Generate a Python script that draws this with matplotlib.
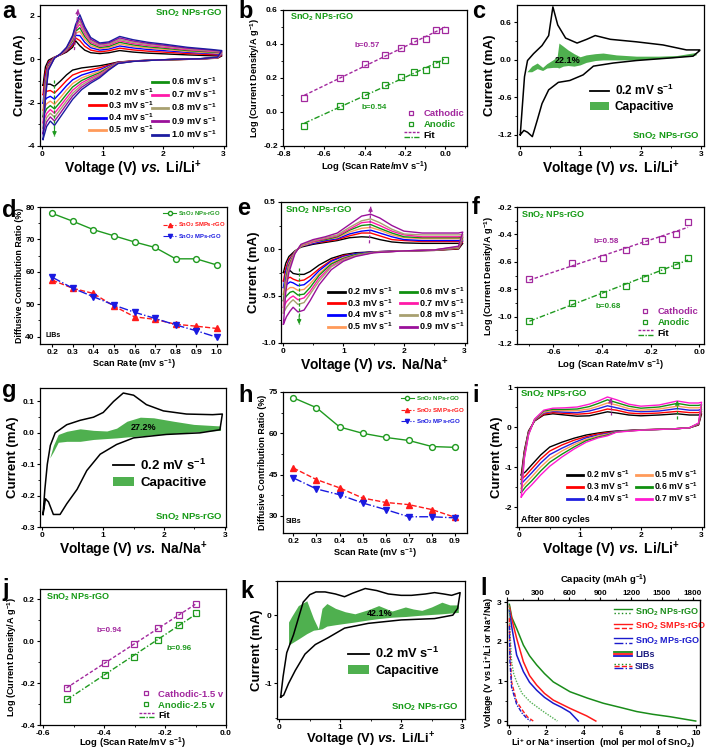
import numpy as np
import matplotlib
matplotlib.use("Agg")
import matplotlib.pyplot as plt
from matplotlib.lines import Line2D
from matplotlib.patches import Patch
from matplotlib.legend_handler import HandlerBase
from matplotlib.ticker import AutoMinorLocator

plt.rcParams.update({
    "font.family": ["Liberation Sans", "DejaVu Sans"],
    "font.weight": "bold",
    "axes.labelweight": "bold",
    "mathtext.fontset": "custom",
    "mathtext.rm": "Liberation Sans:bold",
    "mathtext.bf": "Liberation Sans:bold",
    "mathtext.it": "Liberation Sans:bold:italic",
    "mathtext.default": "bf",
    "axes.unicode_minus": False,
})

# ---------------- DATA ----------------
# (a) Li CV, SnO2 NPs-rGO, scan rates 0.2-1.0 mV/s
A_RATES = ["0.2", "0.3", "0.4", "0.5", "0.6", "0.7", "0.8", "0.9", "1.0"]
A_V_UP = [0.01, 0.05, 0.1, 0.2, 0.3, 0.4, 0.5, 0.55, 0.62, 0.7, 0.8, 0.95, 1.1, 1.28, 1.5, 1.75, 2.0, 2.4, 2.8, 2.97]
A_V_DN = [2.97, 2.9, 2.6, 2.2, 1.8, 1.5, 1.25, 1.1, 0.95, 0.8, 0.65, 0.5, 0.4, 0.3, 0.2, 0.13, 0.07, 0.01]
A_I_UP = [
    [-1.20, -0.35, -0.05, 0.10, 0.20, 0.33, 0.55, 0.85, 0.62, 0.42, 0.30, 0.26, 0.30, 0.40, 0.33, 0.28, 0.25, 0.20, 0.16, 0.15],
    [-1.63, -0.60, -0.13, 0.09, 0.21, 0.37, 0.64, 0.98, 0.86, 0.60, 0.42, 0.34, 0.39, 0.51, 0.43, 0.37, 0.33, 0.26, 0.21, 0.19],
    [-2.03, -0.83, -0.20, 0.08, 0.22, 0.40, 0.73, 1.10, 1.09, 0.78, 0.53, 0.42, 0.47, 0.61, 0.52, 0.45, 0.40, 0.32, 0.26, 0.23],
    [-2.35, -1.02, -0.26, 0.08, 0.22, 0.43, 0.80, 1.20, 1.28, 0.92, 0.62, 0.49, 0.53, 0.70, 0.59, 0.51, 0.46, 0.36, 0.29, 0.27],
    [-2.65, -1.19, -0.31, 0.07, 0.23, 0.46, 0.87, 1.29, 1.45, 1.05, 0.71, 0.54, 0.59, 0.78, 0.66, 0.57, 0.51, 0.40, 0.33, 0.30],
    [-2.93, -1.35, -0.36, 0.07, 0.23, 0.48, 0.93, 1.37, 1.61, 1.17, 0.78, 0.60, 0.65, 0.85, 0.72, 0.63, 0.56, 0.44, 0.36, 0.32],
    [-3.18, -1.50, -0.41, 0.06, 0.24, 0.50, 0.98, 1.44, 1.75, 1.27, 0.85, 0.65, 0.70, 0.91, 0.78, 0.68, 0.61, 0.48, 0.39, 0.35],
    [-3.43, -1.64, -0.45, 0.06, 0.24, 0.53, 1.04, 1.52, 1.89, 1.38, 0.92, 0.70, 0.75, 0.98, 0.84, 0.73, 0.65, 0.51, 0.42, 0.37],
    [-3.70, -1.80, -0.50, 0.05, 0.25, 0.55, 1.10, 1.60, 2.05, 1.50, 1.00, 0.75, 0.80, 1.05, 0.90, 0.78, 0.70, 0.55, 0.45, 0.40],
]
A_I_DN = [
    [0.15, 0.05, 0.01, -0.02, -0.04, -0.08, -0.13, -0.22, -0.30, -0.35, -0.40, -0.50, -0.72, -1.00, -1.25, -1.15, -1.15, -1.20],
    [0.19, 0.06, 0.01, -0.02, -0.04, -0.08, -0.14, -0.27, -0.39, -0.48, -0.57, -0.73, -0.98, -1.28, -1.56, -1.44, -1.48, -1.63],
    [0.23, 0.07, 0.01, -0.01, -0.04, -0.09, -0.15, -0.31, -0.48, -0.60, -0.73, -0.95, -1.22, -1.54, -1.84, -1.71, -1.79, -2.03],
    [0.27, 0.07, 0.01, -0.01, -0.04, -0.09, -0.16, -0.35, -0.55, -0.70, -0.86, -1.12, -1.42, -1.76, -2.08, -1.93, -2.05, -2.35],
    [0.30, 0.08, 0.01, -0.01, -0.05, -0.09, -0.17, -0.38, -0.62, -0.79, -0.98, -1.28, -1.61, -1.96, -2.29, -2.14, -2.28, -2.65],
    [0.32, 0.08, 0.01, 0.00, -0.05, -0.09, -0.18, -0.41, -0.68, -0.87, -1.09, -1.43, -1.78, -2.14, -2.49, -2.32, -2.50, -2.93],
    [0.35, 0.09, 0.02, 0.00, -0.05, -0.10, -0.19, -0.44, -0.73, -0.94, -1.19, -1.57, -1.93, -2.30, -2.67, -2.49, -2.69, -3.18],
    [0.37, 0.09, 0.02, 0.00, -0.05, -0.10, -0.19, -0.47, -0.79, -1.02, -1.29, -1.70, -2.08, -2.47, -2.85, -2.66, -2.89, -3.43],
    [0.40, 0.10, 0.02, 0.00, -0.05, -0.10, -0.20, -0.50, -0.85, -1.10, -1.40, -1.85, -2.25, -2.65, -3.05, -2.85, -3.10, -3.70],
]

# (b) log i vs log v (Li)
B_RATES = [0.2, 0.3, 0.4, 0.5, 0.6, 0.7, 0.8, 0.9, 1.0]
B_CATH = [0.085, 0.20, 0.285, 0.335, 0.375, 0.42, 0.43, 0.48, 0.485]
B_ANOD = [-0.08, 0.035, 0.10, 0.16, 0.205, 0.235, 0.245, 0.285, 0.305]

# (c) capacitive contribution, Li, 0.2 mV/s
C_V_UP = [0.01, 0.04, 0.08, 0.13, 0.23, 0.37, 0.48, 0.55, 0.63, 0.76, 0.95, 1.11, 1.25, 1.5, 1.93, 2.37, 2.76, 2.98]
C_I_UP = [-1.20, -0.80, -0.27, -0.01, 0.10, 0.23, 0.39, 0.85, 0.56, 0.35, 0.27, 0.33, 0.39, 0.33, 0.29, 0.24, 0.16, 0.16]
C_V_DN = [2.98, 2.87, 2.48, 1.93, 1.55, 1.22, 1.05, 0.83, 0.64, 0.48, 0.37, 0.29, 0.21, 0.13, 0.07, 0.01]
C_I_DN = [0.15, 0.06, 0.03, -0.01, -0.05, -0.10, -0.24, -0.33, -0.36, -0.48, -0.70, -0.97, -1.23, -1.16, -1.13, -1.20]
C_CAP_V = [0.12, 0.2, 0.29, 0.38, 0.45, 0.55, 0.62, 0.65, 0.72, 0.8, 0.9, 1.0, 1.1, 1.25, 1.38, 1.6, 1.93, 2.3, 2.6, 2.92]
C_CAP_TOP = [-0.19, -0.1, -0.05, -0.12, -0.06, 0.0, 0.05, 0.27, 0.22, 0.16, 0.1, 0.05, 0.08, 0.1, 0.11, 0.08, 0.06, 0.06, 0.07, 0.12]
C_CAP_BOT = [-0.19, -0.19, -0.14, -0.17, -0.13, -0.12, -0.12, -0.13, -0.1, -0.09, -0.1, -0.08, -0.04, -0.01, 0.0, 0.0, 0.0, 0.02, 0.04, 0.08]

# (d) diffusive ratio, LIBs
D_RATE = [0.2, 0.3, 0.4, 0.5, 0.6, 0.7, 0.8, 0.9, 1.0]
D_NP = [78.0, 75.6, 73.0, 71.1, 69.2, 67.5, 64.0, 64.0, 62.1]
D_SMP = [57.4, 54.9, 53.3, 49.4, 46.1, 45.3, 43.8, 43.2, 42.5]
D_MP = [58.3, 54.9, 52.3, 49.7, 47.5, 45.6, 43.6, 41.8, 39.8]

# (e) Na CV, scan rates 0.2-0.9 mV/s
E_RATES = ["0.2", "0.3", "0.4", "0.5", "0.6", "0.7", "0.8", "0.9"]
E_V_UP = [0.01, 0.05, 0.1, 0.2, 0.3, 0.5, 0.7, 0.9, 1.1, 1.3, 1.45, 1.6, 1.8, 2.0, 2.3, 2.6, 2.9, 2.97]
E_V_DN = [2.97, 2.9, 2.5, 2.0, 1.5, 1.2, 1.0, 0.8, 0.6, 0.45, 0.35, 0.25, 0.17, 0.12, 0.06, 0.01]
E_I_UP = [
    [-0.25, -0.15, -0.08, -0.02, 0.02, 0.05, 0.07, 0.09, 0.12, 0.13, 0.125, 0.10, 0.075, 0.065, 0.06, 0.06, 0.06, 0.06],
    [-0.34, -0.20, -0.11, -0.03, 0.03, 0.06, 0.08, 0.10, 0.14, 0.17, 0.17, 0.14, 0.10, 0.09, 0.08, 0.08, 0.08, 0.08],
    [-0.41, -0.24, -0.13, -0.03, 0.03, 0.06, 0.09, 0.11, 0.16, 0.19, 0.20, 0.17, 0.13, 0.10, 0.09, 0.09, 0.09, 0.095],
    [-0.48, -0.28, -0.15, -0.03, 0.03, 0.07, 0.10, 0.12, 0.18, 0.22, 0.23, 0.20, 0.15, 0.12, 0.11, 0.11, 0.11, 0.11],
    [-0.55, -0.31, -0.17, -0.04, 0.04, 0.08, 0.10, 0.13, 0.20, 0.25, 0.26, 0.22, 0.17, 0.13, 0.12, 0.12, 0.12, 0.125],
    [-0.62, -0.35, -0.19, -0.04, 0.04, 0.08, 0.11, 0.14, 0.21, 0.28, 0.29, 0.25, 0.19, 0.15, 0.13, 0.13, 0.13, 0.14],
    [-0.68, -0.39, -0.21, -0.04, 0.04, 0.09, 0.12, 0.15, 0.23, 0.30, 0.32, 0.28, 0.21, 0.16, 0.15, 0.15, 0.15, 0.155],
    [-0.80, -0.45, -0.25, -0.05, 0.05, 0.10, 0.13, 0.17, 0.26, 0.35, 0.37, 0.33, 0.25, 0.19, 0.17, 0.17, 0.17, 0.18],
]
E_I_DN = [
    [0.06, 0.0, -0.015, -0.02, -0.03, -0.04, -0.06, -0.10, -0.17, -0.24, -0.27, -0.27, -0.26, -0.23, -0.24, -0.25],
    [0.08, 0.005, -0.014, -0.02, -0.03, -0.05, -0.07, -0.12, -0.21, -0.29, -0.33, -0.34, -0.32, -0.30, -0.32, -0.34],
    [0.095, 0.01, -0.013, -0.02, -0.03, -0.05, -0.08, -0.13, -0.23, -0.33, -0.38, -0.39, -0.36, -0.35, -0.38, -0.41],
    [0.11, 0.01, -0.013, -0.02, -0.034, -0.06, -0.09, -0.15, -0.26, -0.37, -0.43, -0.44, -0.41, -0.41, -0.44, -0.48],
    [0.125, 0.016, -0.012, -0.02, -0.035, -0.06, -0.10, -0.16, -0.28, -0.41, -0.48, -0.49, -0.45, -0.46, -0.50, -0.55],
    [0.14, 0.02, -0.01, -0.02, -0.037, -0.07, -0.11, -0.18, -0.31, -0.45, -0.52, -0.54, -0.50, -0.52, -0.56, -0.62],
    [0.155, 0.024, -0.01, -0.02, -0.038, -0.07, -0.12, -0.19, -0.34, -0.48, -0.57, -0.59, -0.54, -0.57, -0.62, -0.68],
    [0.18, 0.03, -0.01, -0.02, -0.04, -0.08, -0.13, -0.22, -0.38, -0.55, -0.65, -0.67, -0.62, -0.66, -0.72, -0.80],
]

# (f) log i vs log v (Na)
F_RATES = [0.2, 0.3, 0.4, 0.5, 0.6, 0.7, 0.8, 0.9]
F_CATH = [-0.728, -0.611, -0.575, -0.515, -0.445, -0.43, -0.395, -0.31]
F_ANOD = [-1.03, -0.902, -0.837, -0.774, -0.716, -0.66, -0.624, -0.571]

# (g) capacitive contribution, Na, 0.2 mV/s
G_V_UP = [0.01, 0.04, 0.08, 0.13, 0.21, 0.4, 0.62, 0.84, 1.0, 1.17, 1.33, 1.5, 1.71, 1.99, 2.37, 2.8, 2.96]
G_I_UP = [-0.26, -0.18, -0.10, -0.04, 0.0, 0.026, 0.04, 0.05, 0.065, 0.10, 0.127, 0.12, 0.09, 0.07, 0.06, 0.058, 0.06]
G_V_DN = [2.96, 2.92, 2.59, 2.04, 1.5, 1.22, 0.95, 0.73, 0.57, 0.4, 0.29, 0.18, 0.1, 0.05, 0.01]
G_I_DN = [0.06, 0.01, 0.0, -0.005, -0.016, -0.037, -0.068, -0.12, -0.18, -0.226, -0.26, -0.26, -0.22, -0.21, -0.26]
G_CAP_V = [0.12, 0.18, 0.26, 0.4, 0.62, 0.84, 1.06, 1.22, 1.39, 1.61, 1.83, 2.16, 2.49, 2.93]
G_CAP_TOP = [-0.08, -0.04, -0.005, 0.005, 0.013, 0.008, 0.006, 0.015, 0.037, 0.05, 0.048, 0.037, 0.027, 0.022]
G_CAP_BOT = [-0.08, -0.06, -0.03, -0.027, -0.027, -0.021, -0.018, -0.016, -0.013, -0.01, -0.006, -0.002, 0.003, 0.008]

# (h) diffusive ratio, SIBs
H_RATE = [0.2, 0.3, 0.4, 0.5, 0.6, 0.7, 0.8, 0.9]
H_NP = [72.9, 69.3, 62.3, 60.0, 58.5, 57.4, 55.2, 54.9]
H_SMP = [47.4, 43.2, 40.2, 36.5, 34.9, 34.1, 32.3, 29.5]
H_MP = [43.8, 39.8, 37.7, 34.7, 32.3, 29.7, 29.7, 29.3]

# (i) Li CV after 800 cycles, 0.2-0.7 mV/s
I_RATES = ["0.2", "0.3", "0.4", "0.5", "0.6", "0.7"]
I_V_UP = [0.03, 0.08, 0.15, 0.25, 0.4, 0.55, 0.75, 0.95, 1.15, 1.3, 1.45, 1.6, 1.8, 2.0, 2.3, 2.6, 2.8, 2.95, 3.0]
I_V_DN = [3.0, 2.95, 2.8, 2.5, 2.0, 1.6, 1.45, 1.3, 1.1, 0.9, 0.7, 0.5, 0.35, 0.2, 0.1, 0.03]
I_I_UP = [
    [-1.20, -0.60, -0.10, 0.15, 0.30, 0.33, 0.30, 0.27, 0.28, 0.33, 0.38, 0.35, 0.30, 0.28, 0.30, 0.33, 0.30, 0.30, 0.33],
    [-1.31, -0.64, -0.12, 0.16, 0.32, 0.36, 0.34, 0.32, 0.34, 0.39, 0.45, 0.42, 0.35, 0.33, 0.35, 0.39, 0.36, 0.36, 0.39],
    [-1.42, -0.68, -0.14, 0.17, 0.35, 0.39, 0.37, 0.36, 0.40, 0.46, 0.53, 0.48, 0.41, 0.38, 0.40, 0.46, 0.42, 0.42, 0.45],
    [-1.53, -0.72, -0.16, 0.18, 0.37, 0.41, 0.41, 0.41, 0.45, 0.52, 0.60, 0.55, 0.46, 0.42, 0.45, 0.52, 0.48, 0.48, 0.50],
    [-1.64, -0.76, -0.18, 0.19, 0.40, 0.44, 0.44, 0.45, 0.51, 0.59, 0.68, 0.61, 0.52, 0.47, 0.50, 0.59, 0.54, 0.54, 0.56],
    [-1.75, -0.80, -0.20, 0.20, 0.42, 0.47, 0.48, 0.50, 0.57, 0.65, 0.75, 0.68, 0.57, 0.52, 0.55, 0.65, 0.60, 0.60, 0.62],
]
I_I_DN = [
    [0.33, 0.05, -0.02, -0.05, -0.07, -0.10, -0.12, -0.15, -0.20, -0.28, -0.38, -0.50, -0.70, -0.95, -1.12, -1.20],
    [0.39, 0.06, -0.02, -0.05, -0.07, -0.11, -0.14, -0.17, -0.24, -0.33, -0.45, -0.60, -0.80, -1.05, -1.22, -1.31],
    [0.45, 0.07, -0.02, -0.05, -0.074, -0.11, -0.16, -0.20, -0.27, -0.39, -0.53, -0.69, -0.90, -1.15, -1.31, -1.42],
    [0.50, 0.08, -0.02, -0.05, -0.076, -0.12, -0.18, -0.22, -0.31, -0.44, -0.60, -0.79, -1.00, -1.25, -1.41, -1.53],
    [0.56, 0.09, -0.02, -0.05, -0.078, -0.12, -0.20, -0.25, -0.34, -0.50, -0.68, -0.88, -1.10, -1.35, -1.50, -1.64],
    [0.62, 0.10, -0.02, -0.05, -0.08, -0.13, -0.22, -0.27, -0.38, -0.55, -0.75, -0.98, -1.20, -1.45, -1.60, -1.75],
]

# (j) log i vs log v after cycling
J_RATES = [0.3, 0.4, 0.5, 0.6, 0.7, 0.8]
J_CATH = [-0.222, -0.106, -0.014, 0.065, 0.127, 0.178]
J_ANOD = [-0.276, -0.159, -0.073, 0.006, 0.076, 0.137]

# (k) capacitive contribution after cycling, Li
K_V_UP = [0.02, 0.06, 0.12, 0.23, 0.39, 0.5, 0.6, 0.75, 0.92, 1.07, 1.2, 1.41, 1.6, 1.79, 2.0, 2.17, 2.4, 2.55, 2.7, 2.83, 2.97]
K_I_UP = [-1.20, -0.90, -0.55, -0.29, 0.19, 0.30, 0.34, 0.34, 0.31, 0.27, 0.32, 0.39, 0.36, 0.31, 0.29, 0.29, 0.31, 0.33, 0.31, 0.29, 0.33]
K_V_DN = [2.97, 2.93, 2.85, 2.55, 2.0, 1.46, 1.07, 0.8, 0.59, 0.42, 0.26, 0.15, 0.07, 0.02]
K_I_DN = [0.33, 0.10, 0.0, -0.05, -0.07, -0.12, -0.19, -0.33, -0.43, -0.57, -0.81, -1.0, -1.17, -1.20]
K_CAP_V = [0.15, 0.2, 0.31, 0.45, 0.56, 0.64, 0.7, 0.78, 0.92, 1.08, 1.24, 1.46, 1.63, 1.85, 2.07, 2.2, 2.34, 2.5, 2.67, 2.8, 2.94]
K_CAP_TOP = [-0.10, -0.02, 0.14, 0.21, -0.05, -0.20, 0.10, 0.17, 0.10, 0.05, 0.02, 0.08, 0.14, 0.06, 0.12, 0.09, 0.07, 0.12, 0.19, 0.15, 0.15]
K_CAP_BOT = [-0.44, -0.41, -0.35, -0.27, -0.22, -0.21, -0.20, -0.16, -0.14, -0.12, -0.10, -0.07, -0.05, -0.03, -0.02, -0.01, 0.0, 0.01, 0.02, 0.03, 0.04]

# (l) discharge curves
L_NP_LIB_X = [0.02, 0.15, 0.41, 0.77, 1.1, 1.48, 1.9, 2.37, 3.27, 4.2, 5.05, 6.0, 6.84, 7.7, 8.62, 10.0]
L_NP_LIB_Y = [2.95, 2.62, 2.34, 1.92, 1.65, 1.42, 1.2, 0.99, 0.74, 0.58, 0.45, 0.34, 0.24, 0.17, 0.11, 0.0]
L_SMP_LIB_X = [0.02, 0.14, 0.41, 0.77, 1.1, 1.48, 1.9, 2.37, 3.27, 4.16, 4.65]
L_SMP_LIB_Y = [2.9, 2.6, 2.09, 1.5, 1.15, 0.91, 0.7, 0.53, 0.32, 0.13, 0.0]
L_MP_LIB_X = [0.02, 0.14, 0.41, 0.77, 1.1, 1.48, 1.9, 2.37, 2.8, 3.27, 3.71]
L_MP_LIB_Y = [2.8, 2.4, 1.67, 1.25, 0.98, 0.78, 0.6, 0.45, 0.35, 0.22, 0.0]
L_NP_SIB_X = [0.02, 0.06, 0.14, 0.25, 0.41, 0.7, 1.12, 1.84, 2.59]
L_NP_SIB_Y = [2.9, 2.2, 1.5, 1.2, 0.99, 0.7, 0.49, 0.24, 0.0]
L_SMP_SIB_X = [0.02, 0.05, 0.14, 0.41, 0.77, 1.0, 1.3]
L_SMP_SIB_Y = [2.6, 1.8, 0.99, 0.49, 0.24, 0.1, 0.0]
L_MP_SIB_X = [0.02, 0.05, 0.14, 0.41, 0.7, 0.95, 1.15]
L_MP_SIB_Y = [2.4, 1.5, 0.85, 0.42, 0.2, 0.07, 0.0]
L_CAP_TICKS = [0, 300, 600, 900, 1200, 1500, 1800]

# ---------------- STYLE ----------------
W, H = 709, 752
GTXT = "#159a15"
PURP = "#a2289e"
GRN = "#1f9a1f"
FILL = "#4fb04f"
A_COLORS = ["#000000", "#ff0000", "#0000ff", "#ff9a5a", "#109010", "#ff1aa8", "#a8a070", "#9a109a", "#1c1ca0"]
E_COLORS = ["#000000", "#ff0000", "#0000ff", "#ff9a5a", "#109010", "#ff1aa8", "#a8a070", "#9a109a"]
I_COLORS = ["#000000", "#ff0000", "#2020e0", "#ff9a5a", "#109010", "#ff1ad0"]

AX_POS = {
    "a": (40, 5, 186, 141), "b": (283, 10, 184, 136), "c": (517, 5, 187, 141),
    "d": (40, 207, 187, 137), "e": (281, 202, 186, 141), "f": (517, 207, 187, 137),
    "g": (40, 388, 186, 139), "h": (283, 392, 184, 141), "i": (517, 387, 187, 140),
    "j": (40, 589, 186, 136), "k": (277, 581, 188, 138), "l": (507, 600, 193, 125),
}
LETTER_POS = {
    "a": (2, 18), "b": (238, 18), "c": (472, 18), "d": (2, 217), "e": (237, 215), "f": (472, 214),
    "g": (2, 397), "h": (238, 402), "i": (472, 402), "j": (2, 596), "k": (240, 598), "l": (480, 595),
}

XL_LI = r"Voltage (V) $\mathit{vs.}$ Li/Li$^{+}$"
XL_NA = r"Voltage (V) $\mathit{vs.}$ Na/Na$^{+}$"
SNO2 = r"SnO$_2$ NPs-rGO"
MVS = r" mV s$^{-1}$"
LOGY = r"Log (Current Density/A g$^{-1}$)"
LOGX = r"Log (Scan Rate/mV s$^{-1}$)"

fig = plt.figure(figsize=(W / 100, H / 100), dpi=100)


def add_ax(key):
    l, t, w, h = AX_POS[key]
    return fig.add_axes([l / W, 1 - (t + h) / H, w / W, h / H])


def style(ax, xlim, ylim, xticks, yticks, xminor=2, yminor=2, fs=6):
    ax.set_xlim(*xlim)
    ax.set_ylim(*ylim)
    ax.set_xticks(xticks)
    ax.set_yticks(yticks)
    if xminor:
        ax.xaxis.set_minor_locator(AutoMinorLocator(xminor))
    if yminor:
        ax.yaxis.set_minor_locator(AutoMinorLocator(yminor))
    ax.tick_params(which="major", direction="out", length=2.5, width=0.8, labelsize=fs, pad=1.2)
    ax.tick_params(which="minor", direction="out", length=1.5, width=0.6)
    for s in ax.spines.values():
        s.set_linewidth(0.9)


class Stack:
    def __init__(self, specs):
        self.specs = specs


class StackHandler(HandlerBase):
    def create_artists(self, legend, orig, xd, yd, width, height, fontsize, trans):
        n = len(orig.specs)
        arts = []
        for k, (c, ls, lw) in enumerate(orig.specs):
            if n == 1:
                y = height / 2
            else:
                y = height * (0.85 - 0.7 * k / (n - 1))
            ln = Line2D([-xd, -xd + width], [y - yd, y - yd], color=c, ls=ls, lw=lw)
            ln.set_transform(trans)
            arts.append(ln)
        return arts


def cv_loops(ax, vup, vdn, iups, idns, colors, lw=1.0):
    for iu, idn, c in zip(iups, idns, colors):
        ax.plot(list(vup) + list(vdn), list(iu) + list(idn), color=c, lw=lw)


def darrow(ax, x0, y0, x1, y1, color):
    ax.plot([x0, x1], [y0, y1], color=color, lw=0.9, ls=(0, (2.5, 1.5)))
    ax.annotate("", xy=(x1, y1), xytext=(x0 + (x1 - x0) * 0.85, y0 + (y1 - y0) * 0.85),
                arrowprops=dict(arrowstyle="-|>", color=color, lw=0.8, mutation_scale=6,
                                shrinkA=0, shrinkB=0))


def rate_legend(ax, labels, colors, bbox, ncol=1, fs=6.5, ls=0.05):
    hs = [Line2D([], [], color=c, lw=2.0) for c in colors]
    lg = ax.legend(hs, [r + MVS for r in labels], loc="upper left", bbox_to_anchor=bbox,
                   ncol=ncol, frameon=False, fontsize=fs, handlelength=1.8, handletextpad=0.3,
                   labelspacing=ls, borderpad=0, borderaxespad=0, columnspacing=0.8)
    return lg


def cap_legend(ax, bbox, fs):
    hs = [Line2D([], [], color="k", lw=1.3), Patch(facecolor=FILL, edgecolor="none")]
    ax.legend(hs, ["0.2" + MVS, "Capacitive"], loc="upper left", bbox_to_anchor=bbox, frameon=False,
              fontsize=fs, handlelength=1.6, handletextpad=0.5, labelspacing=0.3, borderpad=0,
              borderaxespad=0)


def b_legend(ax, labels, bbox, fs=6.8):
    hs = [Line2D([], [], marker="s", ls="none", mfc="none", mec=PURP, ms=3.5, mew=0.9),
          Line2D([], [], marker="s", ls="none", mfc="none", mec=GRN, ms=3.5, mew=0.9),
          Stack([(PURP, (0, (2, 1)), 1.0), (GRN, (0, (4, 1, 1, 1)), 1.0)])]
    lg = ax.legend(hs, labels, loc="upper left", bbox_to_anchor=bbox, frameon=False, fontsize=fs,
                   handlelength=1.6, handletextpad=0.5, labelspacing=0.2, borderpad=0,
                   borderaxespad=0, handler_map={Stack: StackHandler()})
    for t, c in zip(lg.get_texts(), [PURP, GRN, "k"]):
        t.set_color(c)


def fit_plot(ax, rates, cath, anod):
    x = np.log10(rates)
    pc = np.polyfit(x, cath, 1)
    pa = np.polyfit(x, anod, 1)
    xs = np.array([x[0], x[-1]])
    ax.plot(xs, np.polyval(pc, xs), color=PURP, lw=1.0, ls=(0, (2.5, 1.5)))
    ax.plot(xs, np.polyval(pa, xs), color=GRN, lw=1.0, ls=(0, (4, 1.5, 1, 1.5)))
    ax.plot(x, cath, "s", mfc="none", mec=PURP, ms=3.8, mew=0.9)
    ax.plot(x, anod, "s", mfc="none", mec=GRN, ms=3.8, mew=0.9)


def ratio_plot(ax, rates, np_, smp, mp, fs_leg):
    ax.plot(rates, np_, "-o", color="#1f9a1f", mfc="white", mec="#1f9a1f", ms=4.2, mew=1.0, lw=1.0)
    ax.plot(rates, smp, "--^", color="#ff1a1a", ms=4.5, lw=1.0)
    ax.plot(rates, mp, "-.v", color="#1a1ae0", ms=4.5, lw=1.0)
    hs = [Line2D([], [], color="#1f9a1f", marker="o", mfc="white", ms=3, lw=0.8),
          Line2D([], [], color="#ff1a1a", marker="^", ls="--", ms=3, lw=0.8),
          Line2D([], [], color="#1a1ae0", marker="v", ls="-.", ms=3, lw=0.8)]
    lg = ax.legend(hs, [r"SnO$_2$ NPs-rGO", r"SnO$_2$ SMPs-rGO", r"SnO$_2$ MPs-rGO"], loc="upper right",
                   bbox_to_anchor=(0.99, 0.985), frameon=False, fontsize=fs_leg, handlelength=2.2,
                   handletextpad=0.3, labelspacing=0.45, borderpad=0, borderaxespad=0)
    for t, c in zip(lg.get_texts(), ["#1f9a1f", "#ff1a1a", "#1a1ae0"]):
        t.set_color(c)


# ---------------- (a) ----------------
ax = add_ax("a")
style(ax, (-0.04, 3.04), (-4, 2.5), [0, 1, 2, 3], [-4, -2, 0, 2])
cv_loops(ax, A_V_UP, A_V_DN, A_I_UP, A_I_DN, A_COLORS)
darrow(ax, 0.53, 0.42, 0.59, 2.3, PURP)
darrow(ax, 0.2, -0.95, 0.2, -3.55, "#1f9a1f")
lg1 = rate_legend(ax, A_RATES[:4], A_COLORS[:4], (0.265, 0.42), ls=0.05)
ax.add_artist(lg1)
rate_legend(ax, A_RATES[4:], A_COLORS[4:], (0.6, 0.5), ls=0.16)
ax.text(0.985, 0.94, SNO2, transform=ax.transAxes, ha="right", va="center", color=GTXT, fontsize=6.8)
ax.set_xlabel(XL_LI, fontsize=10, labelpad=0.5)
ax.set_ylabel("Current (mA)", fontsize=9.5, labelpad=1)

# ---------------- (b) ----------------
ax = add_ax("b")
style(ax, (-0.805, 0.108), (-0.2, 0.6), [-0.8, -0.6, -0.4, -0.2, 0.0], [-0.2, 0.0, 0.2, 0.4, 0.6])
fit_plot(ax, B_RATES, B_CATH, B_ANOD)
ax.text(-0.386, 0.394, "b=0.57", color=PURP, fontsize=5.8, ha="center", va="center")
ax.text(-0.353, 0.028, "b=0.54", color=GRN, fontsize=5.8, ha="center", va="center")
ax.text(0.04, 0.945, SNO2, transform=ax.transAxes, ha="left", va="center", color=GTXT, fontsize=6.5)
b_legend(ax, ["Cathodic", "Anodic", "Fit"], (0.655, 0.27))
ax.set_xlabel(LOGX, fontsize=6.8, labelpad=1)
ax.set_ylabel(LOGY, fontsize=6.6, labelpad=1)

# ---------------- (c) ----------------
ax = add_ax("c")
style(ax, (-0.044, 3.05), (-1.38, 0.88), [0, 1, 2, 3], [-1.2, -0.6, 0.0, 0.6])
ax.fill_between(C_CAP_V, C_CAP_BOT, C_CAP_TOP, color=FILL, lw=0)
ax.plot(C_V_UP + C_V_DN, C_I_UP + C_I_DN, color="k", lw=1.1)
ax.text(0.8, -0.01, "22.1%", fontsize=6.5, ha="center", va="center")
cap_legend(ax, (0.39, 0.45), 8.5)
ax.text(0.98, 0.066, SNO2, transform=ax.transAxes, ha="right", va="center", color=GTXT, fontsize=6.8)
ax.set_xlabel(XL_LI, fontsize=10, labelpad=0.5)
ax.set_ylabel("Current (mA)", fontsize=9.5, labelpad=1)

# ---------------- (d) ----------------
ax = add_ax("d")
style(ax, (0.14, 1.05), (37.7, 80), D_RATE, [40, 50, 60, 70, 80], xminor=0)
ratio_plot(ax, D_RATE, D_NP, D_SMP, D_MP, 4.2)
ax.text(0.03, 0.035, "LIBs", transform=ax.transAxes, fontsize=5, ha="left", va="bottom")
ax.set_xlabel(r"Scan Rate (mV s$^{-1}$)", fontsize=6.6, labelpad=1)
ax.set_ylabel("Diffusive Contribution Ratio (%)", fontsize=6.4, labelpad=1)

# ---------------- (e) ----------------
ax = add_ax("e")
style(ax, (-0.03, 3.04), (-1.0, 0.5), [0, 1, 2, 3], [-1.0, -0.5, 0.0, 0.5])
cv_loops(ax, E_V_UP, E_V_DN, E_I_UP, E_I_DN, E_COLORS)
darrow(ax, 1.43, 0.06, 1.45, 0.45, PURP)
darrow(ax, 0.27, -0.2, 0.27, -0.8, "#1f9a1f")
rate_legend(ax, E_RATES, E_COLORS, (0.255, 0.41), ncol=2, ls=0.0)
ax.text(0.02, 0.94, SNO2, transform=ax.transAxes, ha="left", va="center", color=GTXT, fontsize=6.8)
ax.set_xlabel(XL_NA, fontsize=10, labelpad=0.5)
ax.set_ylabel("Current (mA)", fontsize=9.5, labelpad=1)

# ---------------- (f) ----------------
ax = add_ax("f")
style(ax, (-0.75, 0.02), (-1.2, -0.2), [-0.6, -0.4, -0.2, 0.0], [-1.2, -1.0, -0.8, -0.6, -0.4, -0.2])
fit_plot(ax, F_RATES, F_CATH, F_ANOD)
ax.text(-0.381, -0.453, "b=0.58", color=PURP, fontsize=5.8, ha="center", va="center")
ax.text(-0.374, -0.928, "b=0.68", color=GRN, fontsize=5.8, ha="center", va="center")
ax.text(0.02, 0.94, SNO2, transform=ax.transAxes, ha="left", va="center", color=GTXT, fontsize=6.5)
b_legend(ax, ["Cathodic", "Anodic", "Fit"], (0.645, 0.27))
ax.set_xlabel(LOGX, fontsize=6.8, labelpad=1)
ax.set_ylabel(LOGY, fontsize=6.6, labelpad=1)

# ---------------- (g) ----------------
ax = add_ax("g")
style(ax, (-0.04, 3.02), (-0.3, 0.143), [0, 1, 2, 3], [-0.3, -0.2, -0.1, 0.0, 0.1])
ax.fill_between(G_CAP_V, G_CAP_BOT, G_CAP_TOP, color=FILL, lw=0)
ax.plot(G_V_UP + G_V_DN, G_I_UP + G_I_DN, color="k", lw=1.1)
ax.text(1.67, 0.018, "27.2%", fontsize=6.5, ha="center", va="center")
cap_legend(ax, (0.39, 0.50), 9.5)
ax.text(0.985, 0.067, SNO2, transform=ax.transAxes, ha="right", va="center", color=GTXT, fontsize=6.8)
ax.set_xlabel(XL_NA, fontsize=10, labelpad=0.5)
ax.set_ylabel("Current (mA)", fontsize=9.5, labelpad=1)

# ---------------- (h) ----------------
ax = add_ax("h")
style(ax, (0.155, 0.952), (23.8, 75), H_RATE, [30, 45, 60, 75], xminor=0)
ratio_plot(ax, H_RATE, H_NP, H_SMP, H_MP, 4.4)
ax.text(0.015, 0.06, "SIBs", transform=ax.transAxes, fontsize=5, ha="left", va="bottom")
ax.set_xlabel(r"Scan Rate (mV s$^{-1}$)", fontsize=6.6, labelpad=1)
ax.set_ylabel("Diffusive Contribution Ratio (%)", fontsize=6.4, labelpad=1)

# ---------------- (i) ----------------
ax = add_ax("i")
style(ax, (-0.04, 3.04), (-2.5, 1.0), [0, 1, 2, 3], [-2, -1, 0, 1])
cv_loops(ax, I_V_UP, I_V_DN, I_I_UP, I_I_DN, I_COLORS)
darrow(ax, 1.5, 0.31, 1.5, 0.72, PURP)
darrow(ax, 2.6, 0.21, 2.6, 0.66, "#1f9a1f")
rate_legend(ax, I_RATES, I_COLORS, (0.27, 0.416), ncol=2, fs=6.2, ls=0.0)
ax.text(0.015, 0.95, SNO2, transform=ax.transAxes, ha="left", va="center", color=GTXT, fontsize=6.8)
ax.text(0.02, 0.05, "After 800 cycles", transform=ax.transAxes, ha="left", va="center", fontsize=6.5)
ax.set_xlabel(XL_LI, fontsize=10, labelpad=0.5)
ax.set_ylabel("Current (mA)", fontsize=9.5, labelpad=1)

# ---------------- (j) ----------------
ax = add_ax("j")
style(ax, (-0.61, 0.0), (-0.4, 0.25), [-0.6, -0.4, -0.2, 0.0], [-0.4, -0.2, 0.0, 0.2])
fit_plot(ax, J_RATES, J_CATH, J_ANOD)
ax.text(-0.384, 0.054, "b=0.94", color=PURP, fontsize=5.8, ha="center", va="center")
ax.text(-0.154, -0.033, "b=0.96", color=GRN, fontsize=5.8, ha="center", va="center")
ax.text(0.03, 0.943, SNO2, transform=ax.transAxes, ha="left", va="center", color=GTXT, fontsize=6.5)
b_legend(ax, ["Cathodic-1.5 v", "Anodic-2.5 v", "Fit"], (0.53, 0.26))
ax.tick_params(axis="x", pad=0.8)
ax.set_xlabel(LOGX, fontsize=6.8, labelpad=-0.5)
ax.set_ylabel(LOGY, fontsize=6.6, labelpad=1)

# ---------------- (k) ----------------
ax = add_ax("k")
style(ax, (-0.04, 3.05), (-1.52, 0.5), [0, 1, 2, 3], [-1, 0])
ax.fill_between(K_CAP_V, K_CAP_BOT, K_CAP_TOP, color=FILL, lw=0)
ax.plot(K_V_UP + K_V_DN, K_I_UP + K_I_DN, color="k", lw=1.1)
ax.text(1.64, 0.02, "42.1%", fontsize=6.5, ha="center", va="center")
cap_legend(ax, (0.38, 0.53), 9.2)
ax.text(0.965, 0.082, SNO2, transform=ax.transAxes, ha="right", va="center", color=GTXT, fontsize=6.8)
ax.tick_params(axis="x", pad=0.8)
ax.set_xlabel(XL_LI, fontsize=9.4, labelpad=0.3)
ax.set_ylabel("Current (mA)", fontsize=9.5, labelpad=1)

# ---------------- (l) ----------------
ax = add_ax("l")
style(ax, (-0.107, 10.23), (-0.1, 3.06), [0, 2, 4, 6, 8, 10], [0, 1, 2, 3])
LG, LR, LB = "#1a8c1a", "#ff1a1a", "#1a1acc"
ax.plot(L_NP_LIB_X, L_NP_LIB_Y, color=LG, lw=1.1)
ax.plot(L_SMP_LIB_X, L_SMP_LIB_Y, color=LR, lw=1.1)
ax.plot(L_MP_LIB_X, L_MP_LIB_Y, color=LB, lw=1.1)
ax.plot(L_NP_SIB_X, L_NP_SIB_Y, color="#55b055", lw=1.0, ls=(0, (1, 1)))
ax.plot(L_SMP_SIB_X, L_SMP_SIB_Y, color=LR, lw=1.0, ls=(0, (3, 1.5)))
ax.plot(L_MP_SIB_X, L_MP_SIB_Y, color=LB, lw=1.0, ls=(0, (3, 1, 1, 1)))
hs = [Stack([(LG, "-", 1.0), (LG, ":", 1.0)]),
      Stack([(LR, "-", 1.0), (LR, "--", 1.0)]),
      Stack([(LB, "-", 1.0), (LB, "-.", 1.0)]),
      Stack([(LG, "-", 1.3), (LR, "-", 1.3), (LB, "-", 1.3)]),
      Stack([(LG, ":", 1.0), (LR, "--", 1.0), (LB, "-.", 1.0)])]
lg = ax.legend(hs, [r"SnO$_2$ NPs-rGO", r"SnO$_2$ SMPs-rGO", r"SnO$_2$ MPs-rGO", "LIBs", "SIBs"],
               loc="upper left", bbox_to_anchor=(0.555, 0.95), frameon=False, fontsize=6.5,
               handlelength=2.0, handletextpad=0.3, labelspacing=0.35, borderpad=0, borderaxespad=0,
               handler_map={Stack: StackHandler()})
for t, c in zip(lg.get_texts(), [LG, LR, LB, "#1a1a80", "#1a1a80"]):
    t.set_color(c)
ax.tick_params(axis="x", pad=0.8)
ax.set_xlabel(r"Li$^{+}$ or Na$^{+}$ insertion  (mol per mol of SnO$_2$)", fontsize=6.6, labelpad=0)
ax.set_ylabel(r"Voltage (V vs Li$^{+}$/Li or Na$^{+}$/Na)", fontsize=6.6, labelpad=1)
ax2 = ax.twiny()
ax2.set_xlim(-2, 1868)
ax2.set_xticks(L_CAP_TICKS)
ax2.xaxis.set_minor_locator(AutoMinorLocator(2))
ax2.tick_params(which="major", direction="out", length=2, width=0.8, labelsize=5.8, pad=0.5)
ax2.tick_params(which="minor", direction="out", length=1.2, width=0.6)
ax2.set_xlabel(r"Capacity (mAh g$^{-1}$)", fontsize=6.8)
ax2.xaxis.set_label_coords(0.5, 1.135)

# ---------------- panel letters ----------------
for key, (x, y) in LETTER_POS.items():
    fig.text(x / W, 1 - y / H, key, fontsize=17, fontweight="bold", ha="left", va="baseline")

fig.savefig("out.png", dpi=100)
